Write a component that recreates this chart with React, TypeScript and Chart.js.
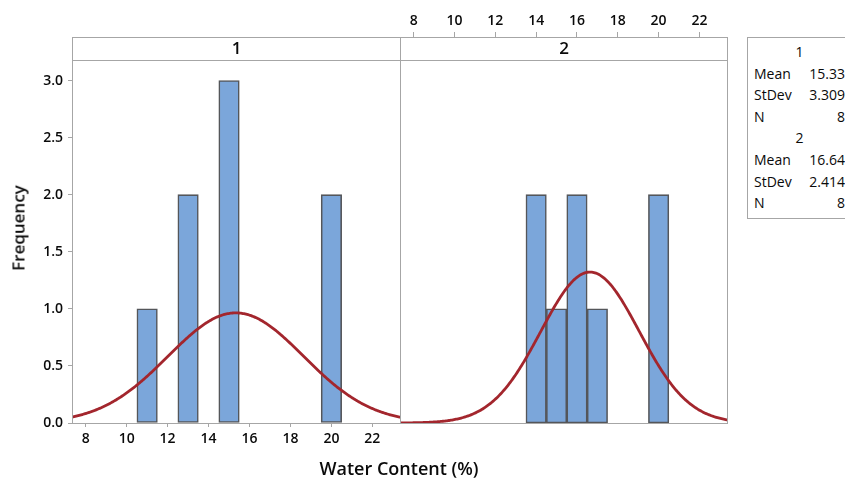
import React, { useEffect, useRef } from "react";
import { Chart, registerables } from "chart.js";
Chart.register(...registerables);

// ---- data ----
const binCenters = [8, 9, 10, 11, 12, 13, 14, 15, 16, 17, 18, 19, 20, 21, 22];
const counts1 = [0, 0, 0, 1, 0, 2, 0, 3, 0, 0, 0, 0, 2, 0, 0];
const counts2 = [0, 0, 0, 0, 0, 0, 2, 1, 2, 1, 0, 0, 2, 0, 0];
const groupNames = ["1", "2"];
const means = [15.33, 16.64];
const meanLabels = ["15.33", "16.64"];
const stdevs = [3.309, 2.414];
const stdevLabels = ["3.309", "2.414"];
const sampleSizes = [8, 8];
const xTickValues = [8, 10, 12, 14, 16, 18, 20, 22];
const yTickValues = [0, 0.5, 1, 1.5, 2, 2.5, 3];
const xTitle = "Water Content (%)";
const yTitle = "Frequency";

const X_MIN = 7.33;
const X_MAX = 23.35;
const Y_MAX = 3.18;
const BIN_WIDTH = 1;

const FONT = "'Open Sans', 'Noto Sans', sans-serif";
const FRAME = "#A6A6A6";
const TEXT = "#0A0A0A";
const BAR_FILL = "#7BA6DA";
const BAR_EDGE = "#54565A";
const CURVE = "#A3262D";

function fitCurve(mean: number, sd: number, n: number) {
  const pts: { x: number; y: number }[] = [];
  for (let x = X_MIN - 0.1; x <= X_MAX + 0.1; x += 0.05) {
    const z = (x - mean) / sd;
    pts.push({ x, y: (n * BIN_WIDTH * Math.exp(-0.5 * z * z)) / (sd * Math.sqrt(2 * Math.PI)) });
  }
  return pts;
}

function framePlugin(label: string, coverTop: boolean) {
  return {
    id: "panelFrame",
    afterDraw(chart: any) {
      const { ctx, chartArea } = chart;
      const L = Math.round(chartArea.left) + 0.5;
      const R = Math.round(chartArea.right) + 0.5;
      const T = 37.5;
      const D = Math.round(chartArea.top) + 0.5;
      const B = Math.round(chartArea.bottom) + 0.5;
      ctx.save();
      if (coverTop) {
        ctx.fillStyle = "#fff";
        ctx.fillRect(L, T, R - L, D - T);
      }
      ctx.strokeStyle = FRAME;
      ctx.lineWidth = 1;
      ctx.strokeRect(L, T, R - L, B - T);
      ctx.beginPath();
      ctx.moveTo(L, D);
      ctx.lineTo(R, D);
      ctx.stroke();
      ctx.fillStyle = TEXT;
      ctx.font = `600 17px ${FONT}`;
      ctx.textAlign = "center";
      ctx.textBaseline = "middle";
      ctx.fillText(label, (L + R) / 2, (T + D) / 2 + 0.5);
      ctx.restore();
    },
  };
}

function makeConfig(idx: number, counts: number[]): any {
  const first = idx === 0;
  const tickFont = { family: FONT, size: 14, weight: "600" as const };
  return {
    type: "bar",
    data: {
      datasets: [
        {
          type: "line",
          data: fitCurve(means[idx], stdevs[idx], sampleSizes[idx]),
          borderColor: CURVE,
          borderWidth: 2.8,
          pointRadius: 0,
          tension: 0,
          order: 0,
        },
        {
          type: "bar",
          data: binCenters.map((c, i) => ({ x: c, y: counts[i] === 0 ? null : counts[i] })),
          backgroundColor: BAR_FILL,
          borderColor: BAR_EDGE,
          borderWidth: 1.6,
          borderSkipped: false,
          barPercentage: 1,
          categoryPercentage: 1,
          order: 1,
        },
      ],
    },
    options: {
      responsive: false,
      animation: false,
      devicePixelRatio: 1,
      layout: first
        ? { padding: { top: 60, left: 0, right: 1, bottom: 0 } }
        : { padding: { top: 0, left: 0, right: 2, bottom: 56 } },
      plugins: { legend: { display: false }, tooltip: { enabled: false } },
      scales: {
        x: {
          type: "linear",
          position: first ? "bottom" : "top",
          min: X_MIN,
          max: X_MAX,
          offset: false,
          afterBuildTicks: (s: any) => {
            s.ticks = xTickValues.map((v) => ({ value: v }));
          },
          afterFit: (s: any) => {
            s.height = first ? 56 : 60;
          },
          grid: {
            display: true,
            drawOnChartArea: false,
            drawTicks: true,
            tickLength: first ? 4 : 28,
            color: FRAME,
            offset: false,
          },
          border: { display: false },
          ticks: {
            font: tickFont,
            color: TEXT,
            padding: first ? 4 : 3,
            maxRotation: 0,
            autoSkip: false,
            callback: (v: any) => String(v),
          },
        },
        y: {
          type: "linear",
          display: first,
          min: 0,
          max: Y_MAX,
          afterBuildTicks: (s: any) => {
            s.ticks = yTickValues.map((v) => ({ value: v }));
          },
          afterFit: (s: any) => {
            s.width = first ? 72 : 0;
          },
          grid: {
            display: true,
            drawOnChartArea: false,
            drawTicks: true,
            tickLength: 4,
            color: FRAME,
          },
          border: { display: false },
          ticks: {
            font: tickFont,
            color: TEXT,
            padding: 5,
            callback: (v: any) => Number(v).toFixed(1),
          },
        },
      },
    },
    plugins: [framePlugin(groupNames[idx], !first)],
  };
}

export default function App() {
  const c1 = useRef<HTMLCanvasElement>(null);
  const c2 = useRef<HTMLCanvasElement>(null);

  useEffect(() => {
    Chart.defaults.font.family = FONT;
    const ch1 = new Chart(c1.current as HTMLCanvasElement, makeConfig(0, counts1));
    const ch2 = new Chart(c2.current as HTMLCanvasElement, makeConfig(1, counts2));
    return () => {
      ch1.destroy();
      ch2.destroy();
    };
  }, []);

  const legendLines: { text: string; value?: string; header?: boolean }[] = [];
  groupNames.forEach((g, i) => {
    legendLines.push({ text: g, header: true });
    legendLines.push({ text: "Mean", value: meanLabels[i] });
    legendLines.push({ text: "StDev", value: stdevLabels[i] });
    legendLines.push({ text: "N", value: String(sampleSizes[i]) });
  });

  return (
    <div
      style={{
        position: "absolute",
        left: 0,
        top: 0,
        width: 845,
        height: 479,
        overflow: "hidden",
        background: "#fff",
        fontFamily: FONT,
        color: TEXT,
      }}
    >
      <canvas
        ref={c1}
        width={401}
        height={479}
        style={{ position: "absolute", left: 0, top: 0, width: 401, height: 479 }}
      />
      <canvas
        ref={c2}
        width={329}
        height={479}
        style={{ position: "absolute", left: 400, top: 0, width: 329, height: 479 }}
      />
      <div
        style={{
          position: "absolute",
          left: 18,
          top: 228,
          transform: "translate(-50%, -50%) rotate(-90deg)",
          fontSize: 17,
          fontWeight: 600,
          whiteSpace: "nowrap",
        }}
      >
        {yTitle}
      </div>
      <div
        style={{
          position: "absolute",
          left: 399,
          top: 468,
          transform: "translate(-50%, -50%)",
          fontSize: 18,
          fontWeight: 600,
          whiteSpace: "nowrap",
        }}
      >
        {xTitle}
      </div>
      <div
        style={{
          position: "absolute",
          left: 747,
          top: 37,
          width: 120,
          height: 182,
          border: `1px solid ${FRAME}`,
          boxSizing: "border-box",
        }}
      />
      {legendLines.map((l, i) => (
        <div
          key={i}
          style={{
            position: "absolute",
            left: 754,
            top: 41 + i * 21.6,
            width: 91,
            height: 21.6,
            lineHeight: "21.6px",
            fontSize: 14,
            fontWeight: 500,
            color: TEXT,
            whiteSpace: "nowrap",
            display: "flex",
            justifyContent: l.header ? "center" : "space-between",
          }}
        >
          <span>{l.text}</span>
          {l.value !== undefined && <span>{l.value}</span>}
        </div>
      ))}
    </div>
  );
}
